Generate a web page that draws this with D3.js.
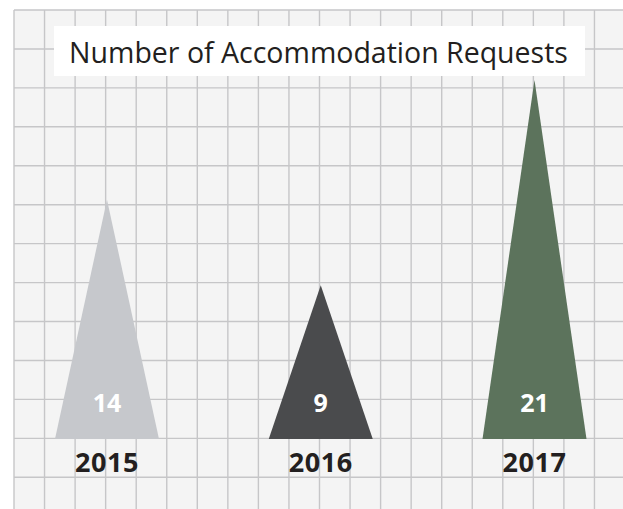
<!DOCTYPE html>
<html>
<head>
<meta charset="utf-8">
<script src="https://cdn.jsdelivr.net/npm/d3@7"></script>
<style>
  html, body { margin: 0; padding: 0; background: #fff; }
  svg { display: block; }
</style>
</head>
<body>
<div id="chart"></div>
<script>
// data
var years = ['2015', '2016', '2017'];
var requests = [14, 9, 21];
var colors = ['#c6c8cc', '#4a4b4d', '#5c735c'];
var title = 'Number of Accommodation Requests';

var width = 623, height = 509;
var baseY = 439;      // base of the triangles
var baseW = 104;      // width of a triangle base

var svg = d3.select('#chart').append('svg')
  .attr('width', width)
  .attr('height', height);

// grid paper background
var gridLeft = 14, gridTop = 10;
var cellW = 30.55, cellH = 38.94;
svg.append('rect')
  .attr('x', gridLeft).attr('y', gridTop)
  .attr('width', width - gridLeft).attr('height', height - gridTop)
  .attr('fill', '#f4f4f4');

svg.selectAll('line.v')
  .data(d3.range(gridLeft, width, cellW))
  .enter().append('line')
  .attr('class', 'v')
  .attr('x1', d => d).attr('x2', d => d)
  .attr('y1', gridTop).attr('y2', height)
  .attr('stroke', '#c6c6c8').attr('stroke-width', 1.4);

svg.selectAll('line.h')
  .data(d3.range(gridTop, height, cellH))
  .enter().append('line')
  .attr('class', 'h')
  .attr('x1', gridLeft).attr('x2', width)
  .attr('y1', d => d).attr('y2', d => d)
  .attr('stroke', '#c6c6c8').attr('stroke-width', 1.4);

// scales
var x = d3.scalePoint().domain(years).range([107, 534.5]);
var y = d3.scaleLinear().domain([0, 21]).range([baseY, 80]);

// triangles
svg.selectAll('path.tri')
  .data(years)
  .enter().append('path')
  .attr('class', 'tri')
  .attr('d', function (d, i) {
    var cx = x(d);
    return 'M' + (cx - baseW / 2) + ',' + baseY +
      'L' + cx + ',' + y(requests[i]) +
      'L' + (cx + baseW / 2) + ',' + baseY + 'Z';
  })
  .attr('fill', (d, i) => colors[i]);

// value labels
svg.selectAll('text.val')
  .data(years)
  .enter().append('text')
  .attr('class', 'val')
  .attr('x', d => x(d))
  .attr('y', 412)
  .attr('text-anchor', 'middle')
  .style('font-family', '"Open Sans", sans-serif')
  .style('font-weight', 'bold')
  .style('font-size', '25px')
  .attr('fill', '#ffffff')
  .text((d, i) => requests[i]);

// year labels
svg.selectAll('text.year')
  .data(years)
  .enter().append('text')
  .attr('class', 'year')
  .attr('x', d => x(d))
  .attr('y', 472)
  .attr('text-anchor', 'middle')
  .style('font-family', '"Open Sans", sans-serif')
  .style('font-weight', 'bold')
  .style('font-size', '27px')
  .style('letter-spacing', '0.5px')
  .attr('fill', '#231f20')
  .text(d => d);

// title box
svg.append('rect')
  .attr('x', 54).attr('y', 26)
  .attr('width', 531).attr('height', 50)
  .attr('fill', '#ffffff');

var t = svg.append('text')
  .attr('x', 318.5)
  .attr('y', 63)
  .attr('text-anchor', 'middle')
  .style('font-family', '"Open Sans", sans-serif')
  .style('font-size', '30px')
  .attr('fill', '#231f20')
  .text(title);

// shrink title to the width of the original
var w = t.node().getComputedTextLength();
if (w > 499) t.style('font-size', (30 * 499 / w) + 'px');
</script>
</body>
</html>
